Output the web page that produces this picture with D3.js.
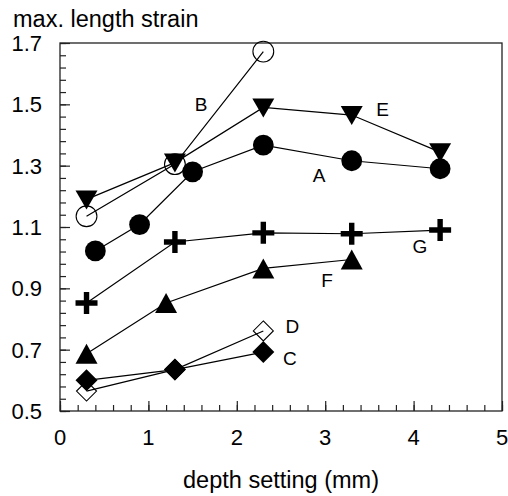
<!DOCTYPE html>
<html>
<head>
<meta charset="utf-8">
<script src="https://cdn.jsdelivr.net/npm/d3@7"></script>
<style>
  body { margin: 0; background: #fff; }
  text { font-family: "Liberation Sans", Arial, sans-serif; fill: #000; }
</style>
</head>
<body>
<svg width="508" height="496"></svg>
<script>
// series values: [depth setting, max. length strain]
const seriesA = [[0.4, 1.022], [0.9, 1.108], [1.5, 1.28], [2.3, 1.367], [3.3, 1.316], [4.3, 1.29]];
const seriesB = [[0.3, 1.135], [1.3, 1.305], [2.3, 1.672]];
const seriesC = [[0.3, 0.60], [1.3, 0.635], [2.3, 0.692]];
const seriesD = [[0.3, 0.565], [1.3, 0.635], [2.3, 0.761]];
const seriesE = [[0.3, 1.19], [1.3, 1.31], [2.3, 1.49], [3.3, 1.465], [4.3, 1.344]];
const seriesF = [[0.3, 0.687], [1.2, 0.852], [2.3, 0.965], [3.3, 0.994]];
const seriesG = [[0.3, 0.852], [1.3, 1.051], [2.3, 1.081], [3.3, 1.078], [4.3, 1.09]];

const seriesNames = ["A", "B", "C", "D", "E", "F", "G"];
const seriesMarkers = ["circle", "openCircle", "diamond", "openDiamond", "triangleDown", "triangleUp", "plus"];
// where each series name sits, in data units
const labelPos = [[2.93, 1.268], [1.595, 1.50], [2.6, 0.672], [2.63, 0.776], [3.65, 1.484], [3.02, 0.926], [4.07, 1.037]];

const xTicks = [0, 1, 2, 3, 4, 5];
const yTicks = [0.5, 0.7, 0.9, 1.1, 1.3, 1.5, 1.7];

const svg = d3.select("svg"),
      margin = { top: 43, right: 6, bottom: 85, left: 60 },
      width = +svg.attr("width") - margin.left - margin.right,
      height = +svg.attr("height") - margin.top - margin.bottom;

const g = svg.append("g").attr("transform", `translate(${margin.left},${margin.top})`);

const x = d3.scaleLinear().domain([0, 5]).range([0, width]);
const y = d3.scaleLinear().domain([0.5, 1.7]).range([height, 0]);

// minor ticks (inward)
g.append("g")
  .attr("transform", `translate(0,${height})`)
  .call(d3.axisTop(x).tickValues(d3.range(0, 5.001, 0.2)).tickSize(6).tickFormat(""))
  .call(a => a.select(".domain").remove());
g.append("g")
  .call(d3.axisRight(y).tickValues(d3.range(0.5, 1.7001, 0.04)).tickSize(6).tickFormat(""))
  .call(a => a.select(".domain").remove());

// major ticks
g.append("g")
  .attr("transform", `translate(0,${height})`)
  .call(d3.axisTop(x).tickValues(xTicks).tickSize(10).tickFormat(""))
  .call(a => a.select(".domain").remove());
g.append("g")
  .call(d3.axisRight(y).tickValues(yTicks).tickSize(10).tickFormat(""))
  .call(a => a.select(".domain").remove());

g.selectAll(".tick line").attr("stroke", "#222").attr("stroke-width", 1.2);

// tick labels
g.selectAll(".xlab")
  .data(xTicks)
  .enter()
  .append("text")
  .attr("x", d => x(d))
  .attr("y", height + 34)
  .attr("text-anchor", "middle")
  .style("font-size", "22px")
  .text(d => d);

g.selectAll(".ylab")
  .data(yTicks)
  .enter()
  .append("text")
  .attr("x", -18)
  .attr("y", d => y(d))
  .attr("dy", "0.36em")
  .attr("text-anchor", "end")
  .style("font-size", "22px")
  .text(d => d3.format(".1f")(d));

// frame
g.append("rect")
  .attr("width", width)
  .attr("height", height)
  .attr("fill", "none")
  .attr("stroke", "#222")
  .attr("stroke-width", 1.3);

// titles
svg.append("text")
  .attr("x", 13)
  .attr("y", 27)
  .style("font-size", "23.5px")
  .text("max. length strain");

svg.append("text")
  .attr("x", margin.left + width / 2)
  .attr("y", 488)
  .attr("text-anchor", "middle")
  .style("font-size", "23.5px")
  .text("depth setting (mm)");

const allSeries = [seriesA, seriesB, seriesC, seriesD, seriesE, seriesF, seriesG];

const line = d3.line().x(d => x(d[0])).y(d => y(d[1]));

// lines first, markers on top
g.selectAll(".series-line")
  .data(allSeries)
  .enter()
  .append("path")
  .attr("class", "series-line")
  .attr("d", line)
  .attr("fill", "none")
  .attr("stroke", "#000")
  .attr("stroke-width", 1.2);

function markerPath(type) {
  switch (type) {
    case "circle":
    case "openCircle":
      return d3.symbol(d3.symbolCircle, 340)();
    case "diamond":
      return "M0,-11L11,0L0,11L-11,0Z";
    case "openDiamond":
      return "M0,-10L10,0L0,10L-10,0Z";
    case "triangleDown":
      return "M-11,-9L11,-9L0,10Z";
    case "triangleUp":
      return "M-11,10L11,10L0,-10Z";
    case "plus":
      return "M-2.7,-11H2.7V-2.7H11V2.7H2.7V11H-2.7V2.7H-11V-2.7H-2.7Z";
  }
}

allSeries.forEach((s, i) => {
  const type = seriesMarkers[i];
  const open = type.startsWith("open");
  g.selectAll(".m" + i)
    .data(s)
    .enter()
    .append("path")
    .attr("transform", d => `translate(${x(d[0])},${y(d[1])})`)
    .attr("d", markerPath(type))
    .attr("fill", open ? "none" : "#000")
    .attr("stroke", "#000")
    .attr("stroke-width", open ? 1.1 : 0);
});

// series names
g.selectAll(".series-name")
  .data(seriesNames)
  .enter()
  .append("text")
  .attr("x", (d, i) => x(labelPos[i][0]))
  .attr("y", (d, i) => y(labelPos[i][1]))
  .attr("dy", "0.36em")
  .attr("text-anchor", "middle")
  .style("font-size", "19px")
  .text(d => d);
</script>
</body>
</html>
